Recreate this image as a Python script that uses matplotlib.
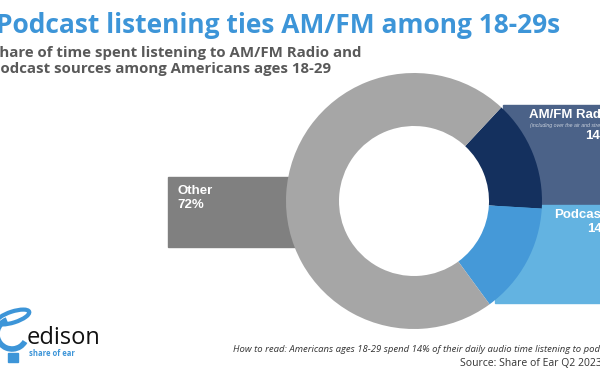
import matplotlib
matplotlib.use("Agg")
import matplotlib.pyplot as plt
from matplotlib.patches import Rectangle, Ellipse, Arc

# data
categories = ["AM/FM Radio", "Podcast", "Other"]
shares = [14, 14, 72]
wedge_colors = ["#14305e", "#4599d8", "#a6a6a6"]
box_colors = ["#4b6288", "#63b3e1", "#808080"]

title = "Podcast listening ties AM/FM among 18-29s"
subtitle = ["Share of time spent listening to AM/FM Radio and",
            "Podcast sources among Americans ages 18-29"]
note = "How to read: Americans ages 18-29 spend 14% of their daily audio time listening to podcasts"
source = "Source: Share of Ear Q2 2023"
amfm_note = "(including over the air and streams)"

W, H = 600, 372
fig = plt.figure(figsize=(6, 3.72), dpi=100)
ax = fig.add_axes([0, 0, 1, 1])
ax.set_xlim(0, W)
ax.set_ylim(0, H)

def py(y):
    # pixel row -> data y
    return H - y

# label boxes behind the donut
ax.add_patch(Rectangle((503, py(205)), 120, 100, color=box_colors[0], zorder=1))
ax.add_patch(Rectangle((495, py(303)), 130, 98, color=box_colors[1], zorder=1))
ax.add_patch(Rectangle((168, py(247)), 140, 70, color=box_colors[2], zorder=1))

wedges, _ = ax.pie(shares, colors=wedge_colors, startangle=47, counterclock=False,
                   center=(414, py(201)), radius=128, frame=True,
                   wedgeprops=dict(width=53, linewidth=0))
for w in wedges:
    w.set_zorder(2)
ax.set_xlim(0, W)
ax.set_ylim(0, H)
ax.set_aspect("auto")
ax.axis("off")

lab = dict(color="white", fontweight="bold", family="Liberation Sans", zorder=3,
           ha="left", va="center", fontsize=9.5)
ax.text(529, py(115), categories[0], **lab)
ax.text(530, py(125), amfm_note, ha="left", va="center", fontsize=3.8, style="italic",
        color="#c8d0dc", family="Liberation Sans", zorder=3)
ax.text(585, py(136), f"{shares[0]}%", **lab)
ax.text(554, py(215), categories[1], **lab)
ax.text(587, py(229), f"{shares[1]}%", **lab)
ax.text(177, py(191), categories[2], **lab)
ax.text(177, py(205), f"{shares[2]}%", **lab)

# title block
ax.text(-4, py(33), title, ha="left", va="baseline", fontsize=19, fontweight="bold",
        color="#3d95d8", family="Open Sans")
ax.text(-9, py(57), subtitle[0], ha="left", va="baseline", fontsize=10.8, fontweight="bold",
        color="#595959", family="Open Sans")
ax.text(-9, py(73), subtitle[1], ha="left", va="baseline", fontsize=10.8, fontweight="bold",
        color="#595959", family="Open Sans")

# footer
ax.text(233, py(349), note, ha="left", va="center", fontsize=6.8, style="italic",
        color="#333333", family="Open Sans")
ax.text(460, py(363), source, ha="left", va="center", fontsize=7.5,
        color="#333333", family="Open Sans")

# edison logo
blue = "#3d95d8"
ax.add_patch(Ellipse((13, py(317)), 34, 11, angle=18, fill=False, ec=blue, lw=3))
ax.add_patch(Arc((12, py(334)), 30, 30, theta1=110, theta2=330, color=blue, lw=4))
ax.add_patch(Rectangle((8, py(362)), 10, 9, color=blue))
ax.text(27, py(338), "edison", ha="left", va="center", fontsize=17, color="#111111",
        family="Open Sans")
ax.text(29, py(354), "share of ear", ha="left", va="center", fontsize=5.5,
        color=blue, fontweight="bold", family="Open Sans")

fig.savefig("out.png", dpi=100)
